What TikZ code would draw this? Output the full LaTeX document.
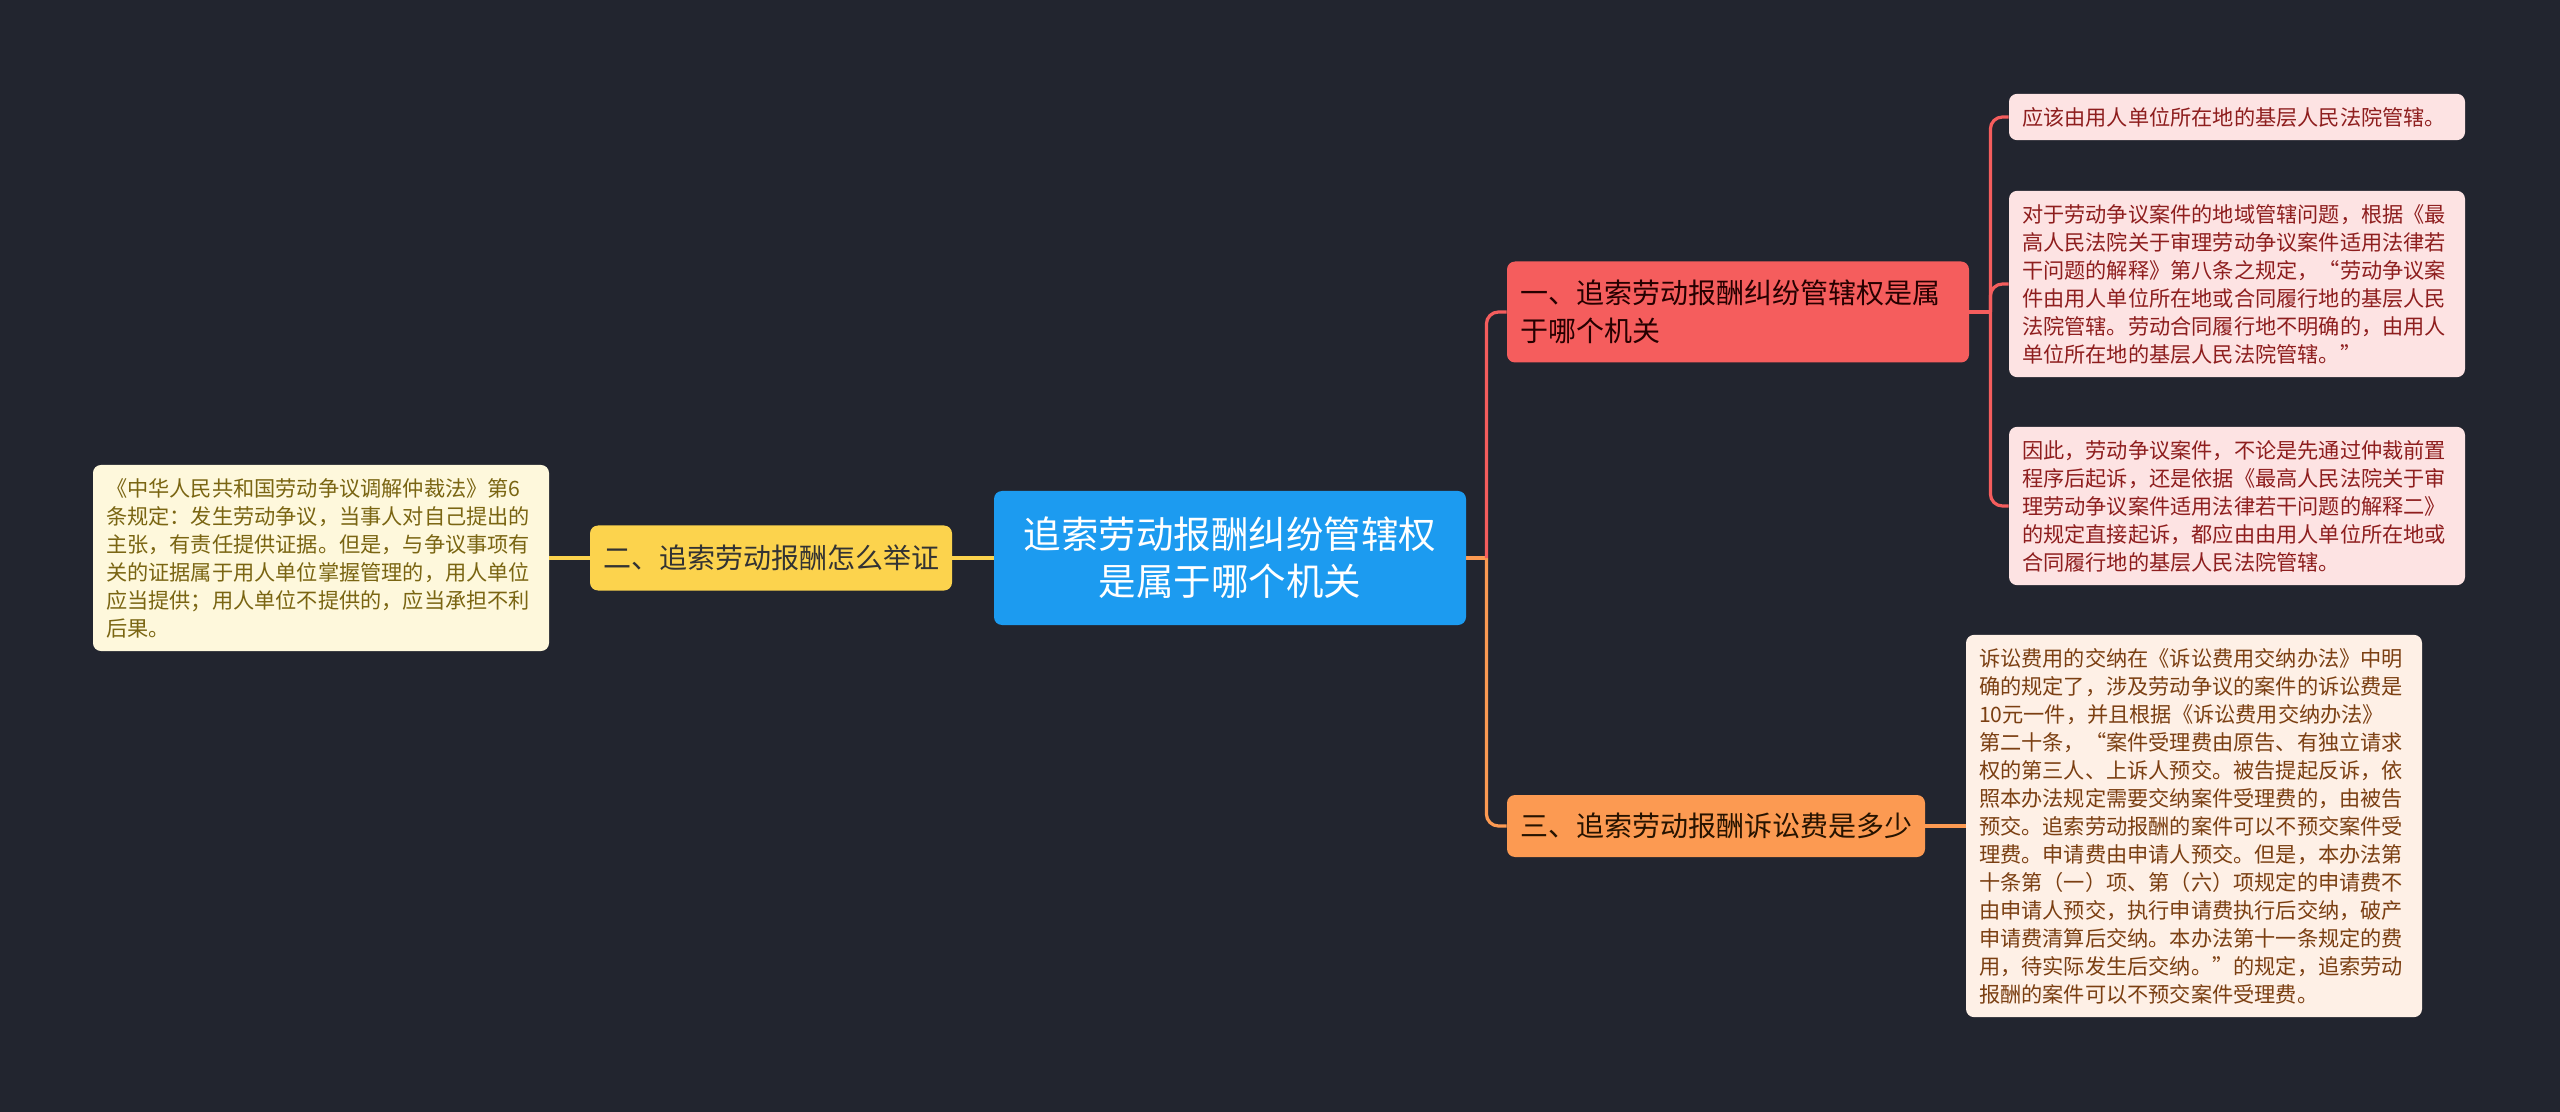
\documentclass[tikz,border=0pt]{standalone}
\usepackage{fontspec}
\setmainfont{Noto Sans CJK SC}
\usetikzlibrary{positioning}
\definecolor{bgdark}{HTML}{22252F}
\definecolor{rootblue}{HTML}{1C9BF0}
\definecolor{proofyellow}{HTML}{FCD34D}
\definecolor{courtred}{HTML}{F55D5D}
\definecolor{feeorange}{HTML}{FC9A52}
\definecolor{proofpale}{HTML}{FEF8DC}
\definecolor{prooftext}{HTML}{7A6512}
\definecolor{courtpale}{HTML}{FDE3E3}
\definecolor{courttext}{HTML}{8E1E1E}
\definecolor{feepale}{HTML}{FEF0E6}
\definecolor{feetext}{HTML}{7B3F12}
\tikzset{
  rootbox/.style={fill=rootblue, text=white, rounded corners=4pt, align=center,
    minimum width=236pt, minimum height=67pt, inner sep=0pt,
    font=\fontsize{18.75pt}{23.6pt}\selectfont},
  branchbox/.style={rounded corners=4pt, inner xsep=6.5pt, inner ysep=0pt,
    font=\fontsize{14pt}{18.75pt}\selectfont},
  leafbox/.style={rounded corners=4pt, align=left, text width=215pt,
    inner xsep=6.5pt, inner ysep=6.6pt,
    font=\fontsize{10.6pt}{14pt}\selectfont},
  link/.style={line width=1.6pt}
}
\begin{document}
\begin{tikzpicture}[x=0.5pt, y=-0.5pt]
  \fill[bgdark] (0,0) rectangle (2560,1112);
  \useasboundingbox (0,0) rectangle (2560,1112);
  \node[rootbox] (root) at (1230,558) {追索劳动报酬纠纷管辖权\\是属于哪个机关};
  % left side
  \node[branchbox, fill=proofyellow, text=black!80, minimum width=180.5pt,
    minimum height=32.5pt] (proof) at (771,558) {二、追索劳动报酬怎么举证};
  \node[leafbox, fill=proofpale, text=prooftext] (proofnote) at (321,558) {《中华人民共和国劳动争议调解仲裁法》第6\\
条规定：发生劳动争议，当事人对自己提出的\\
主张，有责任提供证据。但是，与争议事项有\\
关的证据属于用人单位掌握管理的，用人单位\\
应当提供；用人单位不提供的，应当承担不利\\
后果。};
  % right side
  \node[branchbox, fill=courtred, text=black!85!red, align=left, text width=218pt,
    minimum height=50.5pt] (court) at (1738,312) {一、追索劳动报酬纠纷管辖权是属\\于哪个机关};
  \node[branchbox, fill=feeorange, text=black!85!orange, minimum width=209pt,
    minimum height=31pt] (fee) at (1716,826) {三、追索劳动报酬诉讼费是多少};
  \node[leafbox, fill=courtpale, text=courttext] (courtnoteA) at (2237,117) {应该由用人单位所在地的基层人民法院管辖。};
  \node[leafbox, fill=courtpale, text=courttext] (courtnoteB) at (2237,284) {对于劳动争议案件的地域管辖问题，根据《最\\
高人民法院关于审理劳动争议案件适用法律若\\
干问题的解释》第八条之规定，“劳动争议案\\
件由用人单位所在地或合同履行地的基层人民\\
法院管辖。劳动合同履行地不明确的，由用人\\
单位所在地的基层人民法院管辖。”};
  \node[leafbox, fill=courtpale, text=courttext] (courtnoteC) at (2237,506) {因此，劳动争议案件，不论是先通过仲裁前置\\
程序后起诉，还是依据《最高人民法院关于审\\
理劳动争议案件适用法律若干问题的解释二》\\
的规定直接起诉，都应由由用人单位所在地或\\
合同履行地的基层人民法院管辖。};
  \node[leafbox, fill=feepale, text=feetext] (feenote) at (2194,826) {诉讼费用的交纳在《诉讼费用交纳办法》中明\\
确的规定了，涉及劳动争议的案件的诉讼费是\\
10元一件，并且根据《诉讼费用交纳办法》\\
第二十条，“案件受理费由原告、有独立请求\\
权的第三人、上诉人预交。被告提起反诉，依\\
照本办法规定需要交纳案件受理费的，由被告\\
预交。追索劳动报酬的案件可以不预交案件受\\
理费。申请费由申请人预交。但是，本办法第\\
十条第（一）项、第（六）项规定的申请费不\\
由申请人预交，执行申请费执行后交纳，破产\\
申请费清算后交纳。本办法第十一条规定的费\\
用，待实际发生后交纳。”的规定，追索劳动\\
报酬的案件可以不预交案件受理费。};
  % connectors
  \draw[link, proofyellow] (root.west) -- (proof.east);
  \draw[link, proofyellow] (proof.west) -- (proofnote.east);
  \coordinate[right=10pt of root.east] (rtrunk);
  \draw[link, feeorange] (root.east) -- (rtrunk);
  \draw[link, feeorange, rounded corners=6pt] (rtrunk) |- (fee.west);
  \draw[link, courtred, rounded corners=6pt] (rtrunk) |- (court.west);
  \coordinate[right=10.5pt of court.east] (ltrunk);
  \draw[link, courtred] (court.east) -- (ltrunk);
  \foreach \leaf in {courtnoteA, courtnoteB, courtnoteC}
    \draw[link, courtred, rounded corners=6pt] (ltrunk) |- (\leaf.west);
  \draw[link, feeorange] (fee.east) -- (feenote.west);
\end{tikzpicture}
\end{document}
